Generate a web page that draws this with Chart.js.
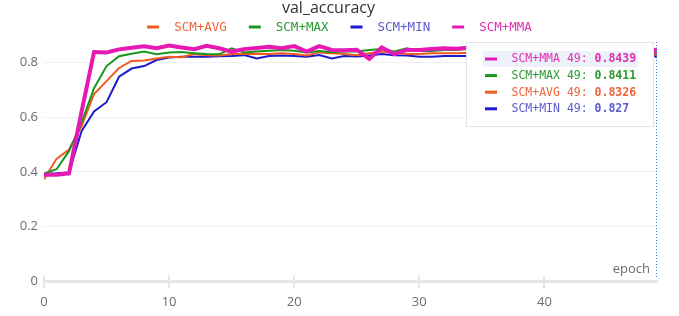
<!DOCTYPE html>
<html>
<head>
<meta charset="utf-8">
<script src="https://cdn.jsdelivr.net/npm/chart.js@4.4.1/dist/chart.umd.min.js"></script>
<style>
    html, body { margin: 0; padding: 0; background: #fff; }
    #wrap { width: 679px; height: 316px; }
</style>
</head>
<body>
<div id="wrap"><canvas id="accChart"></canvas></div>
<script>
const epochs = [0, 1, 2, 3, 4, 5, 6, 7, 8, 9,
    10, 11, 12, 13, 14, 15, 16, 17, 18, 19,
    20, 21, 22, 23, 24, 25, 26, 27, 28, 29,
    30, 31, 32, 33, 34, 35, 36, 37, 38, 39,
    40, 41, 42, 43, 44, 45, 46, 47, 48, 49];

const scmAvg = [0.373, 0.448, 0.482, 0.567, 0.685, 0.732, 0.780, 0.806, 0.807, 0.815,
    0.821, 0.819, 0.831, 0.827, 0.826, 0.831, 0.831, 0.832, 0.831, 0.834,
    0.831, 0.826, 0.837, 0.834, 0.831, 0.827, 0.834, 0.840, 0.837, 0.831,
    0.831, 0.834, 0.834, 0.834, 0.836, 0.833, 0.836, 0.831, 0.835, 0.832,
    0.834, 0.830, 0.835, 0.833, 0.831, 0.834, 0.832, 0.835, 0.833, 0.8326];

const scmMax = [0.394, 0.410, 0.476, 0.580, 0.706, 0.787, 0.823, 0.832, 0.840, 0.830,
    0.837, 0.838, 0.834, 0.831, 0.830, 0.852, 0.837, 0.840, 0.843, 0.846,
    0.843, 0.837, 0.842, 0.838, 0.840, 0.840, 0.846, 0.849, 0.840, 0.852,
    0.842, 0.842, 0.846, 0.846, 0.850, 0.845, 0.848, 0.843, 0.847, 0.850,
    0.844, 0.846, 0.849, 0.843, 0.847, 0.845, 0.842, 0.846, 0.844, 0.8411];

const scmMin = [0.394, 0.395, 0.398, 0.549, 0.621, 0.655, 0.748, 0.778, 0.787, 0.809,
    0.818, 0.821, 0.821, 0.821, 0.823, 0.824, 0.827, 0.815, 0.824, 0.826,
    0.824, 0.821, 0.827, 0.815, 0.824, 0.822, 0.826, 0.831, 0.827, 0.826,
    0.821, 0.821, 0.824, 0.824, 0.824, 0.826, 0.822, 0.825, 0.828, 0.823,
    0.826, 0.824, 0.827, 0.822, 0.825, 0.828, 0.824, 0.826, 0.829, 0.827];

const scmMma = [0.390, 0.390, 0.395, 0.620, 0.838, 0.837, 0.848, 0.854, 0.859, 0.852,
    0.862, 0.855, 0.849, 0.861, 0.852, 0.840, 0.849, 0.853, 0.858, 0.852,
    0.860, 0.840, 0.860, 0.846, 0.845, 0.847, 0.813, 0.855, 0.831, 0.846,
    0.846, 0.849, 0.852, 0.850, 0.855, 0.852, 0.848, 0.856, 0.850, 0.846,
    0.853, 0.849, 0.855, 0.851, 0.847, 0.852, 0.849, 0.845, 0.850, 0.8439];

const yTicks = [0, 0.2, 0.4, 0.6, 0.8];
const xTicks = [0, 10, 20, 30, 40];

// name, line colour, text colour, width
const series = [
    { name: 'SCM+AVG', values: scmAvg, color: '#ee5a1f', text: '#f0643a', width: 2, order: 3 },
    { name: 'SCM+MAX', values: scmMax, color: '#1a961e', text: '#2a9a2e', width: 2, order: 2 },
    { name: 'SCM+MIN', values: scmMin, color: '#1c1ccc', text: '#5a5ad0', width: 2, order: 4 },
    { name: 'SCM+MMA', values: scmMma, color: '#e619b4', text: '#e22fb2', width: 4, order: 1 }
];

const lastIndex = epochs.length - 1;
const uiFont = '"Open Sans", "DejaVu Sans", sans-serif';
const monoFont = '"DejaVu Sans Mono", monospace';

// legend drawn by hand so the gap between dash and label matches
const legendRow = {
    id: 'legendRow',
    afterDraw(chart) {
        const ctx = chart.ctx;
        ctx.save();
        ctx.font = '12.5px ' + monoFont;
        ctx.textBaseline = 'middle';
        const dash = 12, gapText = 15, gapItem = 22;
        let total = 0;
        series.forEach((s, i) => {
            total += dash + gapText + ctx.measureText(s.name).width;
            if (i < series.length - 1) total += gapItem;
        });
        let x = (chart.width - total) / 2;
        const y = 27;
        series.forEach(s => {
            ctx.fillStyle = s.color;
            ctx.fillRect(x, y - 1.5, dash, 3);
            ctx.fillStyle = s.text;
            ctx.fillText(s.name, x + dash + gapText, y + 0.5);
            x += dash + gapText + ctx.measureText(s.name).width + gapItem;
        });
        ctx.restore();
    }
};

// hover marker at the last epoch and its tooltip box
const hoverBox = {
    id: 'hoverBox',
    afterDraw(chart) {
        const ctx = chart.ctx;
        const area = chart.chartArea;
        const xs = chart.scales.x;
        const px = Math.round(xs.getPixelForValue(epochs[lastIndex])) - 0.5;

        ctx.save();
        // small tick stubs above the x axis
        ctx.strokeStyle = '#e6e6e9';
        ctx.lineWidth = 2;
        xTicks.forEach(v => {
            const tx = Math.round(xs.getPixelForValue(v));
            ctx.beginPath();
            ctx.moveTo(tx, area.bottom);
            ctx.lineTo(tx, area.bottom - 6);
            ctx.stroke();
        });

        // epoch label inside the plot
        ctx.font = '13px ' + uiFont;
        ctx.fillStyle = '#6b6b73';
        ctx.textAlign = 'right';
        ctx.textBaseline = 'middle';
        ctx.fillText('epoch', area.right - 7, area.bottom - 12);

        // dotted guide line
        ctx.strokeStyle = '#3b82d6';
        ctx.lineWidth = 1;
        ctx.setLineDash([1, 2]);
        ctx.beginPath();
        ctx.moveTo(px, area.top);
        ctx.lineTo(px, area.bottom - 4);
        ctx.stroke();
        ctx.setLineDash([]);

        // tooltip box
        const bx = 466.5, by = 42.5, bw = 187, bh = 84;
        ctx.fillStyle = '#ffffff';
        ctx.fillRect(bx, by, bw, bh);
        ctx.strokeStyle = '#e4e4e8';
        ctx.strokeRect(bx, by, bw, bh);

        const rows = series.map(s => ({ s: s, v: s.values[lastIndex] }))
            .sort((a, b) => b.v - a.v);
        const rowH = 16.6;
        let ry = 59;
        rows.forEach((r, i) => {
            if (i === 0) {
                ctx.fillStyle = '#edf2fa';
                ctx.fillRect(483, ry - 8, 155, 16);
            }
            ctx.fillStyle = r.s.color;
            ctx.fillRect(485, ry - 1.5, 12, 3);
            ctx.textAlign = 'left';
            ctx.fillStyle = r.s.text;
            ctx.font = '11.5px ' + monoFont;
            const label = r.s.name + ' ' + epochs[lastIndex] + ': ';
            ctx.fillText(label, 511.5, ry + 0.5);
            const w = ctx.measureText(label).width;
            ctx.font = 'bold 11.5px ' + monoFont;
            ctx.fillText(String(r.v), 511.5 + w, ry + 0.5);
            ry += rowH;
        });
        ctx.restore();
    }
};

const ctx = document.getElementById('accChart').getContext('2d');
new Chart(ctx, {
    type: 'line',
    data: {
        datasets: series.map(s => ({
            label: s.name,
            data: epochs.map((e, i) => ({ x: e, y: s.values[i] })),
            borderColor: s.color,
            backgroundColor: s.color,
            borderWidth: s.width,
            tension: 0,
            order: s.order,
            pointRadius: c => (c.dataIndex === lastIndex ? 3 : 0),
            pointBorderWidth: 0,
            pointHoverRadius: 0
        }))
    },
    options: {
        responsive: true,
        maintainAspectRatio: false,
        animation: false,
        events: [],
        layout: { padding: { left: 0, right: 22, top: 0, bottom: 0 } },
        scales: {
            x: {
                type: 'linear',
                min: 0,
                max: epochs[lastIndex],
                afterBuildTicks: scale => { scale.ticks = xTicks.map(v => ({ value: v })); },
                grid: {
                    drawOnChartArea: false,
                    drawTicks: true,
                    tickLength: 7,
                    color: '#e6e6e9',
                    lineWidth: 2
                },
                border: { display: true, color: '#e6e6e9', width: 3 },
                ticks: {
                    padding: 6,
                    color: '#6b6b73',
                    font: { size: 13, family: uiFont },
                    maxRotation: 0
                }
            },
            y: {
                min: 0,
                max: 0.875,
                afterBuildTicks: scale => { scale.ticks = yTicks.map(v => ({ value: v })); },
                afterFit: scale => { scale.width = 44; },
                grid: { color: '#f0f0f2', lineWidth: 1, drawTicks: false },
                border: { display: false },
                ticks: {
                    padding: 6,
                    color: '#6b6b73',
                    font: { size: 13, family: uiFont },
                    callback: v => String(Math.round(v * 10) / 10)
                }
            }
        },
        plugins: {
            legend: { display: false },
            tooltip: { enabled: false },
            title: {
                display: true,
                text: 'val_accuracy',
                color: '#333333',
                font: { size: 16, family: uiFont, weight: 'normal', lineHeight: 1 },
                padding: { top: 0, bottom: 26 }
            }
        }
    },
    plugins: [legendRow, hoverBox]
});
</script>
</body>
</html>
